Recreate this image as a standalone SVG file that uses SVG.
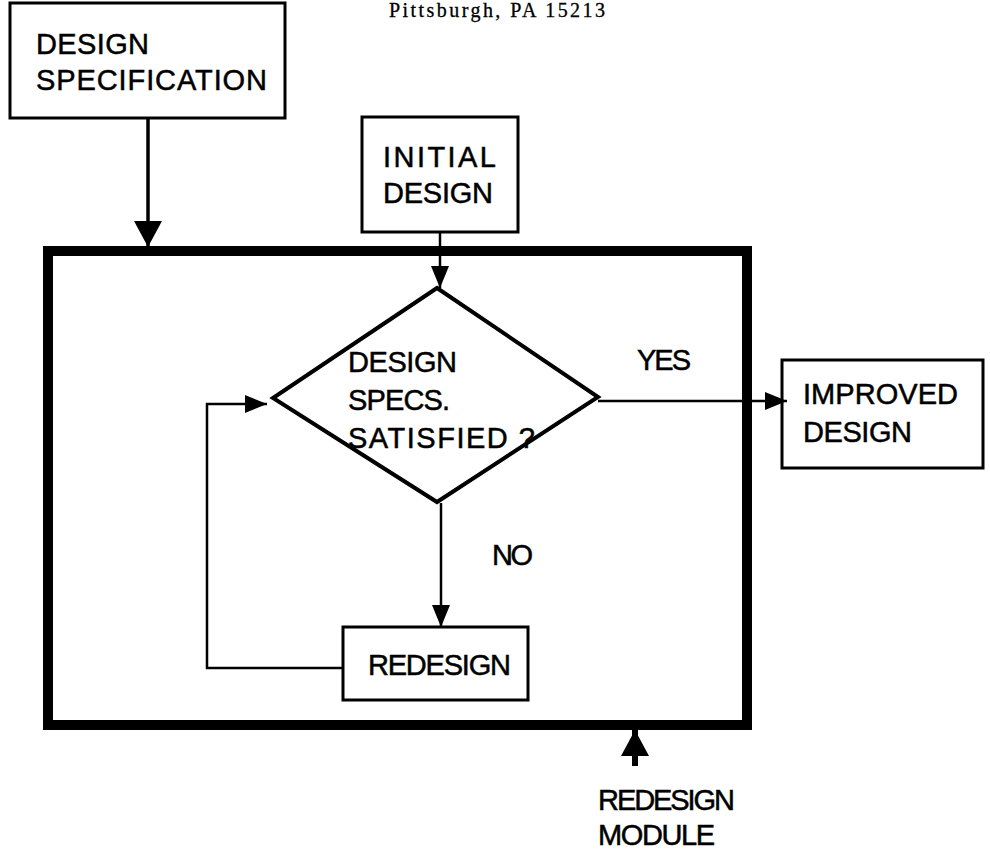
<svg xmlns="http://www.w3.org/2000/svg" width="990" height="854" viewBox="0 0 990 854">
<style>
  .box { fill: #fff; stroke: #000; stroke-width: 3; }
  .t { font-family: "Liberation Sans", Arial, Helvetica, sans-serif; font-size: 29px; fill: #000; stroke: #000; stroke-width: 0.5px; }
  .c { fill: none; stroke: #000; stroke-width: 2.5; }
</style>
<defs>
  <marker id="ah" markerUnits="userSpaceOnUse" markerWidth="22" markerHeight="18" refX="22" refY="9" orient="auto">
    <path d="M0,0 L22,9 L0,18 Z" fill="#000"/>
  </marker>
  <marker id="ahBig" markerUnits="userSpaceOnUse" markerWidth="26" markerHeight="28" refX="26" refY="14" orient="auto">
    <path d="M0,0 L26,14 L0,28 Z" fill="#000"/>
  </marker>
</defs>
<rect width="990" height="854" fill="#fff"/>

<text x="389" y="17" font-family="Liberation Serif, 'Times New Roman', serif" font-size="20" fill="#000" stroke="#000" stroke-width="0.3" textLength="216" lengthAdjust="spacing">Pittsburgh, PA  15213</text>

<g id="module">
  <rect x="48" y="251" width="699" height="474" fill="none" stroke="#000" stroke-width="10"/>
</g>

<g id="design-specification">
  <rect class="box" x="10" y="3" width="275" height="115"/>
  <text class="t" x="36" y="54" font-size="30" textLength="113">DESIGN</text>
  <text class="t" x="36" y="90" font-size="30" textLength="231">SPECIFICATION</text>
</g>

<g id="initial-design">
  <rect class="box" x="362" y="117" width="156" height="115"/>
  <text class="t" x="383" y="167" textLength="113">INITIAL</text>
  <text class="t" x="383" y="203" textLength="110">DESIGN</text>
</g>

<g id="decision">
  <polygon points="437,288 598,397 437,502 273,398" fill="none" stroke="#000" stroke-width="4" stroke-linejoin="miter"/>
  <text class="t" x="348" y="372" font-size="28" textLength="109">DESIGN</text>
  <text class="t" x="348" y="410" font-size="28" textLength="102">SPECS.</text>
  <text class="t" x="348" y="448" font-size="28" textLength="187">SATISFIED ?</text>
</g>

<g id="improved-design">
  <rect class="box" x="782" y="360" width="201" height="108"/>
  <text class="t" x="803" y="404" textLength="155">IMPROVED</text>
  <text class="t" x="803" y="442" textLength="109">DESIGN</text>
</g>

<g id="redesign">
  <rect class="box" x="343" y="627" width="185" height="73"/>
  <text class="t" x="368" y="675" font-size="28" textLength="143">REDESIGN</text>
</g>

<g id="redesign-module-label">
  <text class="t" x="598" y="810" textLength="137">REDESIGN</text>
  <text class="t" x="598" y="845" textLength="117">MODULE</text>
</g>

<g id="connectors">
  <line x1="148" y1="118" x2="148" y2="247" stroke="#000" stroke-width="3.5" marker-end="url(#ahBig)"/>
  <line class="c" x1="440" y1="232" x2="440" y2="288" marker-end="url(#ah)"/>
  <line class="c" x1="598" y1="401" x2="787" y2="401" marker-end="url(#ah)"/>
  <line class="c" x1="441" y1="503" x2="441" y2="627" marker-end="url(#ah)"/>
  <polyline class="c" stroke-width="3" points="343,668 207,668 207,404 267,404" marker-end="url(#ah)"/>
  <line x1="635" y1="766" x2="635" y2="730" stroke="#000" stroke-width="6" marker-end="url(#ahBig)"/>
  <text class="t" x="637" y="370" textLength="54">YES</text>
  <text class="t" x="492" y="565" font-size="28" textLength="41">NO</text>
</g>
</svg>
